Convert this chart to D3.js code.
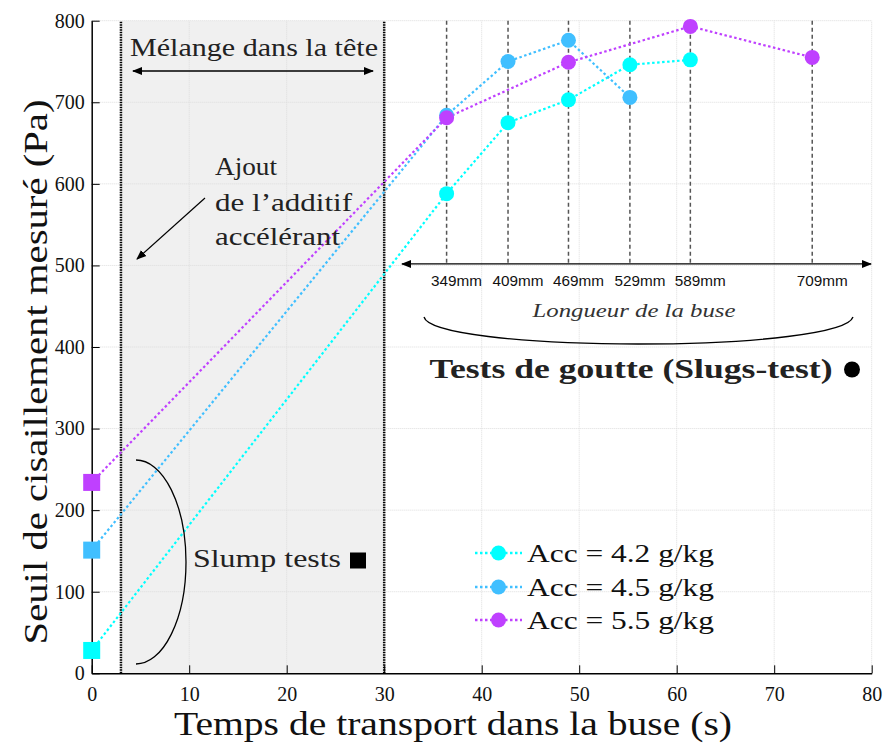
<!DOCTYPE html>
<html><head><meta charset="utf-8">
<script src="https://cdn.jsdelivr.net/npm/d3@7"></script>
<style>html,body{margin:0;padding:0;background:#fff;} svg{display:block;}</style>
</head><body>
<script>
// ---- data ----
const xTicks = [0, 10, 20, 30, 40, 50, 60, 70, 80];
const yTicks = [0, 100, 200, 300, 400, 500, 600, 700, 800];
const nozzleTimes = [36.4, 42.7, 48.9, 55.2, 61.4, 73.9];
const nozzleLabels = ["349mm", "409mm", "469mm", "529mm", "589mm", "709mm"];
const seriesNames = ["Acc = 4.2 g/kg", "Acc = 4.5 g/kg", "Acc = 5.5 g/kg"];
const seriesColors = ["#00ffff", "#40bfff", "#bf40ff"];
const acc42X = [0, 36.4, 42.7, 48.9, 55.2, 61.4];
const acc42Y = [28, 588, 675, 703, 746, 752];
const acc45X = [0, 36.4, 42.7, 48.9, 55.2];
const acc45Y = [151, 684, 750, 776, 706];
const acc55X = [0, 36.4, 48.9, 61.4, 73.9];
const acc55Y = [234, 681, 749, 793, 755];
const mixStart = 3, mixEnd = 30;

const W = 885, H = 744;
const x = d3.scaleLinear().domain([0, 80]).range([91.7, 871.7]);
const y = d3.scaleLinear().domain([0, 800]).range([673.3, 20.7]);
const serif = "'Liberation Serif', 'DejaVu Serif', serif";

const svg = d3.select("body").append("svg").attr("width", W).attr("height", H)
  .style("font-family", serif);

const defs = svg.append("defs");
defs.append("marker").attr("id", "arr").attr("viewBox", "0 0 10 10")
  .attr("refX", 9).attr("refY", 5).attr("markerWidth", 10).attr("markerHeight", 10)
  .attr("markerUnits", "userSpaceOnUse").attr("orient", "auto-start-reverse")
  .append("path").attr("d", "M0,1 L10,5 L0,9 Z").attr("fill", "#000");

// shaded mixing region
svg.append("rect").attr("x", x(mixStart)).attr("y", y(800))
  .attr("width", x(mixEnd) - x(mixStart)).attr("height", y(0) - y(800))
  .attr("fill", "#f0f0f0");

// grid
const grid = svg.append("g");
grid.selectAll(".gx").data(xTicks.slice(1)).join("line")
  .attr("x1", d => x(d)).attr("x2", d => x(d)).attr("y1", y(0)).attr("y2", y(800))
  .attr("stroke", "#dcdcdc").attr("stroke-width", 1).attr("stroke-dasharray", "1,1");
grid.selectAll(".gy").data(yTicks.slice(1)).join("line")
  .attr("y1", d => y(d)).attr("y2", d => y(d)).attr("x1", x(0)).attr("x2", x(80))
  .attr("stroke", "#dcdcdc").attr("stroke-width", 1).attr("stroke-dasharray", "1,1");

// mixing region boundaries
[mixStart, mixEnd].forEach(v => {
  svg.append("line").attr("x1", x(v)).attr("x2", x(v)).attr("y1", y(0)).attr("y2", y(800))
    .attr("stroke", "#000").attr("stroke-width", 2.5).attr("stroke-dasharray", "1.5,1");
});

// nozzle dashed lines
const arrowY = y(500) - 1.5;
svg.selectAll(".nz").data(nozzleTimes).join("line")
  .attr("x1", d => x(d)).attr("x2", d => x(d)).attr("y1", y(800)).attr("y2", arrowY)
  .attr("stroke", "#555").attr("stroke-width", 1.5).attr("stroke-dasharray", "4,3");

// axes
const xAxis = d3.axisBottom(x).tickValues(xTicks).tickSizeInner(-8).tickSizeOuter(0).tickPadding(14);
const gx = svg.append("g").attr("transform", `translate(0,${y(0)})`).call(xAxis);
gx.select(".domain").attr("stroke", "#000").attr("stroke-width", 1.5);
gx.selectAll(".tick line").attr("stroke", "#000");
gx.selectAll("text").attr("font-family", serif).attr("font-size", 20).attr("fill", "#111");

const yAxis = d3.axisLeft(y).tickValues(yTicks).tickSizeInner(-8).tickSizeOuter(0).tickPadding(7);
const gy = svg.append("g").attr("transform", `translate(${x(0)},0)`).call(yAxis);
gy.select(".domain").attr("stroke", "#000").attr("stroke-width", 1.5);
gy.selectAll(".tick line").attr("stroke", "#000");
gy.selectAll("text").attr("font-family", serif).attr("font-size", 20).attr("fill", "#111");

// axis titles
svg.append("text").attr("x", 453).attr("y", 735).attr("text-anchor", "middle")
  .attr("font-size", 34).attr("fill", "#111")
  .attr("textLength", 558).attr("lengthAdjust", "spacingAndGlyphs")
  .text("Temps de transport dans la buse (s)");
svg.append("text").attr("transform", "translate(47,372) rotate(-90)").attr("text-anchor", "middle")
  .attr("font-size", 33).attr("fill", "#111")
  .attr("textLength", 545).attr("lengthAdjust", "spacingAndGlyphs")
  .text("Seuil de cisaillement mesuré (Pa)");

// series lines + markers
const series = [
  {xs: acc42X, ys: acc42Y},
  {xs: acc45X, ys: acc45Y},
  {xs: acc55X, ys: acc55Y}
];
const line = d3.line().x(d => x(d[0])).y(d => y(d[1]));
series.forEach((s, i) => {
  const pts = s.xs.map((v, k) => [v, s.ys[k]]);
  svg.append("path").attr("d", line(pts)).attr("fill", "none")
    .attr("stroke", seriesColors[i]).attr("stroke-width", 2.2).attr("stroke-dasharray", "2.5,2.5");
});
series.forEach((s, i) => {
  const pts = s.xs.map((v, k) => [v, s.ys[k]]);
  const sq = pts[0];
  svg.append("rect").attr("x", x(sq[0]) - 8.5).attr("y", y(sq[1]) - 8.5)
    .attr("width", 17).attr("height", 17).attr("fill", seriesColors[i]);
  svg.selectAll(null).data(pts.slice(1)).join("circle")
    .attr("cx", d => x(d[0])).attr("cy", d => y(d[1])).attr("r", 7.5)
    .attr("fill", seriesColors[i]);
});

// nozzle length arrow + labels
svg.append("line").attr("x1", 402).attr("x2", 871).attr("y1", arrowY).attr("y2", arrowY)
  .attr("stroke", "#000").attr("stroke-width", 1.3)
  .attr("marker-start", "url(#arr)").attr("marker-end", "url(#arr)");
svg.selectAll(".nzl").data(nozzleTimes).join("text")
  .attr("x", d => x(d) + 10).attr("y", 286).attr("text-anchor", "middle")
  .attr("font-family", "'Liberation Sans', Arial, sans-serif").attr("font-size", 15.5).attr("fill", "#111")
  .attr("textLength", 51).attr("lengthAdjust", "spacingAndGlyphs")
  .text((d, i) => nozzleLabels[i]);
svg.append("text").attr("x", 634).attr("y", 317).attr("text-anchor", "middle")
  .attr("font-size", 19).attr("font-style", "italic").attr("fill", "#333")
  .attr("textLength", 203).attr("lengthAdjust", "spacingAndGlyphs")
  .text("Longueur de la buse");
svg.append("path").attr("d", "M424,317 C428,333 520,344 638,344 C756,344 848,333 853,317")
  .attr("fill", "none").attr("stroke", "#000").attr("stroke-width", 1.3);
svg.append("text").attr("x", 631).attr("y", 378).attr("text-anchor", "middle")
  .attr("font-size", 27).attr("font-weight", "bold").attr("fill", "#222")
  .attr("textLength", 403).attr("lengthAdjust", "spacingAndGlyphs")
  .text("Tests de goutte (Slugs-test)");
svg.append("circle").attr("cx", 852).attr("cy", 369.5).attr("r", 8).attr("fill", "#000");

// mixing annotation
svg.append("text").attr("x", 254).attr("y", 56).attr("text-anchor", "middle")
  .attr("font-size", 25).attr("fill", "#222")
  .attr("textLength", 248).attr("lengthAdjust", "spacingAndGlyphs")
  .text("Mélange dans la tête");
svg.append("line").attr("x1", 133).attr("x2", 373).attr("y1", 71).attr("y2", 71)
  .attr("stroke", "#000").attr("stroke-width", 1.3)
  .attr("marker-start", "url(#arr)").attr("marker-end", "url(#arr)");

// additive annotation
const addLines = [["Ajout", 175, 62], ["de l’additif", 211, 137], ["accélérant", 245, 125]];
addLines.forEach(l => {
  svg.append("text").attr("x", 215).attr("y", l[1]).attr("font-size", 25).attr("fill", "#222")
    .attr("textLength", l[2]).attr("lengthAdjust", "spacingAndGlyphs").text(l[0]);
});
svg.append("line").attr("x1", 205).attr("y1", 198).attr("x2", 137).attr("y2", 259)
  .attr("stroke", "#000").attr("stroke-width", 1.2).attr("marker-end", "url(#arr)");

// slump tests annotation
svg.append("path").attr("d", "M136,460 A50,102 0 0 1 136,664")
  .attr("fill", "none").attr("stroke", "#000").attr("stroke-width", 1.3);
svg.append("text").attr("x", 193).attr("y", 567).attr("font-size", 25).attr("fill", "#222")
  .attr("textLength", 148).attr("lengthAdjust", "spacingAndGlyphs").text("Slump tests");
svg.append("rect").attr("x", 350).attr("y", 552.5).attr("width", 16).attr("height", 16).attr("fill", "#000");

// legend
const legRows = [553, 587, 620];
seriesNames.forEach((n, i) => {
  const g = svg.append("g");
  g.append("line").attr("x1", 475).attr("x2", 522).attr("y1", legRows[i]).attr("y2", legRows[i])
    .attr("stroke", seriesColors[i]).attr("stroke-width", 2.5).attr("stroke-dasharray", "2.5,2.5");
  g.append("circle").attr("cx", 498.5).attr("cy", legRows[i]).attr("r", 7.5).attr("fill", seriesColors[i]);
  g.append("text").attr("x", 527).attr("y", legRows[i] + 8.5).attr("font-size", 25).attr("fill", "#111")
    .attr("textLength", 187).attr("lengthAdjust", "spacingAndGlyphs").text(n);
});
</script>
</body></html>
